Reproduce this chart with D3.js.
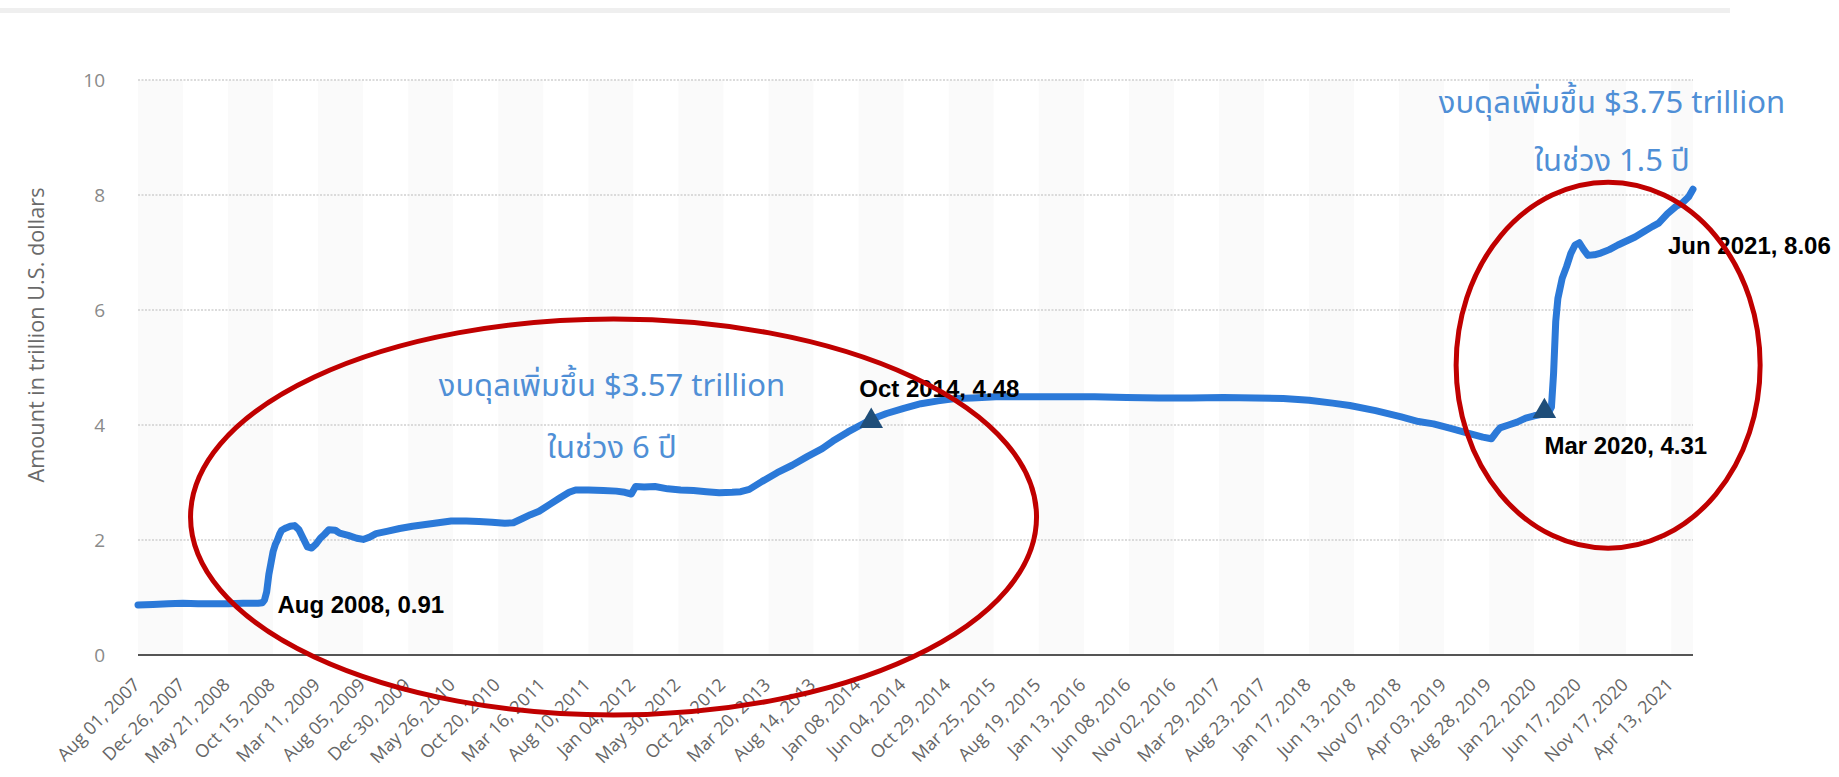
<!DOCTYPE html>
<html>
<head>
<meta charset="utf-8">
<title>Fed balance sheet</title>
<script src="https://cdnjs.cloudflare.com/ajax/libs/d3/7.8.5/d3.min.js"></script>
<style>
    body { margin: 0; background: #ffffff; }
    svg { display: block; }
</style>
</head>
<body>
<script>

// weekly balance sheet total, trillion U.S. dollars
const dates = [
    "2007-08-01", "2007-09-19", "2007-11-07", "2007-12-26", "2008-02-13", "2008-04-02",
    "2008-05-21", "2008-07-09", "2008-08-27", "2008-09-10", "2008-09-17", "2008-09-24",
    "2008-10-01", "2008-10-08", "2008-10-15", "2008-10-22", "2008-10-29", "2008-11-05",
    "2008-11-12", "2008-11-26", "2008-12-10", "2008-12-24", "2009-01-07", "2009-01-21",
    "2009-02-04", "2009-02-18", "2009-03-04", "2009-03-18", "2009-04-01", "2009-04-15",
    "2009-05-06", "2009-05-20", "2009-06-17", "2009-07-15", "2009-08-05", "2009-08-26",
    "2009-09-16", "2009-10-21", "2009-12-02", "2010-01-13", "2010-02-24", "2010-04-07",
    "2010-05-19", "2010-07-07", "2010-08-18", "2010-09-29", "2010-11-10", "2010-12-08",
    "2011-01-05", "2011-02-02", "2011-03-02", "2011-04-06", "2011-05-11", "2011-06-08",
    "2011-06-29", "2011-08-10", "2011-09-28", "2011-11-09", "2011-12-07", "2011-12-28",
    "2012-01-11", "2012-02-08", "2012-03-14", "2012-04-25", "2012-06-06", "2012-07-18",
    "2012-08-29", "2012-10-10", "2012-11-21", "2012-12-19", "2013-01-16", "2013-02-27",
    "2013-04-17", "2013-06-05", "2013-07-24", "2013-09-11", "2013-10-16", "2013-12-04",
    "2014-01-15", "2014-02-19", "2014-04-09", "2014-06-04", "2014-07-30", "2014-09-24",
    "2014-11-19", "2015-01-14", "2015-04-01", "2015-07-15", "2015-11-04", "2016-02-17",
    "2016-06-01", "2016-09-14", "2016-12-28", "2017-04-12", "2017-07-26", "2017-10-25",
    "2018-01-17", "2018-04-04", "2018-05-30", "2018-08-22", "2018-11-14", "2019-01-09",
    "2019-02-27", "2019-04-24", "2019-06-19", "2019-08-07", "2019-09-04", "2019-09-18",
    "2019-10-02", "2019-10-30", "2019-11-27", "2019-12-25", "2020-01-22", "2020-02-19",
    "2020-03-11", "2020-03-18", "2020-03-25", "2020-04-01", "2020-04-08", "2020-04-22",
    "2020-05-06", "2020-05-20", "2020-06-03", "2020-06-17", "2020-07-01", "2020-07-15",
    "2020-08-05", "2020-08-26", "2020-09-23", "2020-10-21", "2020-11-18", "2020-12-16",
    "2021-01-13", "2021-02-10", "2021-03-03", "2021-03-31", "2021-04-28", "2021-05-19",
    "2021-06-09", "2021-06-23"
];

const values = [
    0.87, 0.88, 0.89, 0.90, 0.89, 0.89,
    0.89, 0.90, 0.90, 0.91, 0.96, 1.10,
    1.40, 1.60, 1.80, 1.92, 2.00, 2.10,
    2.17, 2.21, 2.24, 2.25, 2.18, 2.03,
    1.88, 1.86, 1.93, 2.03, 2.10, 2.18,
    2.17, 2.12, 2.08, 2.03, 2.01, 2.05,
    2.11, 2.15, 2.20, 2.24, 2.27, 2.30,
    2.33, 2.33, 2.32, 2.31, 2.29, 2.30,
    2.37, 2.44, 2.50, 2.62, 2.74, 2.83,
    2.87, 2.87, 2.86, 2.85, 2.83, 2.80,
    2.93, 2.92, 2.93, 2.89, 2.87, 2.86,
    2.84, 2.82, 2.83, 2.84, 2.88, 3.02,
    3.17, 3.30, 3.45, 3.59, 3.72, 3.88,
    4.00, 4.10, 4.20, 4.29, 4.37, 4.42,
    4.46, 4.47, 4.49, 4.49, 4.49, 4.49,
    4.48, 4.47, 4.47, 4.48, 4.47, 4.46,
    4.43, 4.38, 4.34, 4.25, 4.14, 4.06,
    4.02, 3.94, 3.86, 3.79, 3.76, 3.86,
    3.95, 4.00, 4.05, 4.12, 4.16, 4.19,
    4.24, 4.31, 4.90, 5.80, 6.20, 6.55,
    6.75, 6.98, 7.13, 7.17, 7.05, 6.95,
    6.96, 6.99, 7.05, 7.13, 7.20, 7.27,
    7.36, 7.45, 7.51, 7.67, 7.80, 7.86,
    7.97, 8.10
];

// category labels shown under the x axis
const xTickLabels = [
    "Aug 01, 2007", "Dec 26, 2007", "May 21, 2008", "Oct 15, 2008", "Mar 11, 2009",
    "Aug 05, 2009", "Dec 30, 2009", "May 26, 2010", "Oct 20, 2010", "Mar 16, 2011",
    "Aug 10, 2011", "Jan 04, 2012", "May 30, 2012", "Oct 24, 2012", "Mar 20, 2013",
    "Aug 14, 2013", "Jan 08, 2014", "Jun 04, 2014", "Oct 29, 2014", "Mar 25, 2015",
    "Aug 19, 2015", "Jan 13, 2016", "Jun 08, 2016", "Nov 02, 2016", "Mar 29, 2017",
    "Aug 23, 2017", "Jan 17, 2018", "Jun 13, 2018", "Nov 07, 2018", "Apr 03, 2019",
    "Aug 28, 2019", "Jan 22, 2020", "Jun 17, 2020", "Nov 17, 2020", "Apr 13, 2021"
];

const yTicks = [0, 2, 4, 6, 8, 10];

// callouts: point referred to and its label
const calloutText = ["Aug 2008, 0.91", "Oct 2014, 4.48", "Mar 2020, 4.31", "Jun 2021, 8.06"];
const calloutDate = ["2008-09-10", "2014-02-18", "2020-02-24", "2021-06-23"];
const calloutValue = [0.91, 4.12, 4.29, 8.06];

// triangle markers (indexes into the callouts)
const markerIndex = [1, 2];

// Thai notes for the two circled periods
const noteLines = [
    ["งบดุลเพิ่มขึ้น $3.57 trillion", "ในช่วง 6 ปี"],
    ["งบดุลเพิ่มขึ้น $3.75 trillion", "ในช่วง 1.5 ปี"]
];


window.onload = function() {
    makeChart();
};


/** Draws the line chart with its notes. */
function makeChart() {

    const width = 1839;
    const height = 777;
    const left = 138;
    const right = 1693;
    const top = 80;
    const bottom = 655;

    const parse = d3.timeParse("%Y-%m-%d");
    const parseLabel = d3.timeParse("%b %d, %Y");

    let series = dates.map(function(d, i) {
        return {date: parse(d), value: values[i]};
    });

    let xScale = d3.scaleTime()
                   .domain([parse("2007-08-01"), parse("2021-06-23")])
                   .range([left, right]);

    let yScale = d3.scaleLinear()
                   .domain([0, 10])
                   .range([bottom, top]);

    let svg = d3.select("body")
                .append("svg")
                .attr("width", width)
                .attr("height", height);

    // thin grey strip along the top
    svg.append("rect")
       .attr("x", 0)
       .attr("y", 8)
       .attr("width", 1730)
       .attr("height", 5)
       .attr("fill", "#efefef");

    // alternating background bands between category labels
    let tickX = xTickLabels.map(function(t) { return xScale(parseLabel(t)); });
    let bandEdges = tickX.concat([right]);

    svg.append("g")
       .selectAll("rect")
       .data(bandEdges.slice(0, -1))
       .enter()
       .append("rect")
       .attr("x", function(d) { return d; })
       .attr("y", top)
       .attr("width", function(d, i) { return bandEdges[i + 1] - d; })
       .attr("height", bottom - top)
       .attr("fill", function(d, i) { return i % 2 == 0 ? "#fafafa" : "#ffffff"; });

    // dotted grid lines
    svg.append("g")
       .selectAll("line")
       .data(yTicks.filter(function(d) { return d > 0; }))
       .enter()
       .append("line")
       .attr("x1", left)
       .attr("x2", right)
       .attr("y1", function(d) { return yScale(d); })
       .attr("y2", function(d) { return yScale(d); })
       .attr("stroke", "#cfcfcf")
       .attr("stroke-width", 1.5)
       .attr("stroke-dasharray", "2,1.5");

    // y axis labels
    let yAxis = svg.append("g")
                   .attr("transform", "translate(" + (left - 33) + ",0)")
                   .call(d3.axisLeft(yScale)
                           .tickValues(yTicks)
                           .tickSize(0)
                           .tickPadding(0));

    yAxis.select(".domain").remove();
    yAxis.selectAll("text")
         .attr("fill", "#8a8a8a")
         .style("font-family", "'Open Sans', sans-serif")
         .style("font-size", "19px");

    // y axis title
    svg.append("text")
       .attr("transform", "translate(44,335) rotate(-90)")
       .attr("text-anchor", "middle")
       .attr("textLength", 295)
       .attr("lengthAdjust", "spacingAndGlyphs")
       .attr("fill", "#6a6a6a")
       .style("font-family", "'Open Sans', sans-serif")
       .style("font-size", "21px")
       .text("Amount in trillion U.S. dollars");

    // zero line
    svg.append("line")
       .attr("x1", left)
       .attr("x2", right)
       .attr("y1", yScale(0))
       .attr("y2", yScale(0))
       .attr("stroke", "#555555")
       .attr("stroke-width", 2);

    // rotated x labels
    svg.append("g")
       .selectAll("text")
       .data(xTickLabels)
       .enter()
       .append("text")
       .attr("transform", function(d, i) {
            return "translate(" + (tickX[i] + 3) + ",686) rotate(-45)";
       })
       .attr("text-anchor", "end")
       .attr("fill", "#666666")
       .style("font-family", "'Open Sans', sans-serif")
       .style("font-size", "18px")
       .text(function(d) { return d; });

    // the balance sheet line
    let line = d3.line()
                 .x(function(d) { return xScale(d.date); })
                 .y(function(d) { return yScale(d.value); });

    svg.append("path")
       .datum(series)
       .attr("d", line)
       .attr("fill", "none")
       .attr("stroke", "#2b79d8")
       .attr("stroke-width", 7)
       .attr("stroke-linejoin", "round")
       .attr("stroke-linecap", "round");

    // triangle markers
    svg.append("g")
       .selectAll("path")
       .data(markerIndex)
       .enter()
       .append("path")
       .attr("d", d3.symbol().type(d3.symbolTriangle).size(240))
       .attr("transform", function(i) {
            return "translate(" + xScale(parse(calloutDate[i])) + "," +
                   (yScale(calloutValue[i]) + 3) + ")";
       })
       .attr("fill", "#1f4e79");

    // callout labels, offset from the point they describe
    const offsets = [[15, 10], [-12, -21], [0, 46], [-25, 62]];

    svg.append("g")
       .selectAll("text")
       .data(calloutText)
       .enter()
       .append("text")
       .attr("x", function(d, i) { return xScale(parse(calloutDate[i])) + offsets[i][0]; })
       .attr("y", function(d, i) { return yScale(calloutValue[i]) + offsets[i][1]; })
       .attr("fill", "#000000")
       .style("font-family", "'Liberation Sans', Arial, sans-serif")
       .style("font-weight", "bold")
       .style("font-size", "24px")
       .text(function(d) { return d; });

    // red circles round the two growth periods
    const rings = [
        {date: "2011-10-31", value: 2.4, rx: 423, ry: 198},
        {date: "2020-09-19", value: 5.04, rx: 152, ry: 183}
    ];

    svg.append("g")
       .selectAll("ellipse")
       .data(rings)
       .enter()
       .append("ellipse")
       .attr("cx", function(d) { return xScale(parse(d.date)); })
       .attr("cy", function(d) { return yScale(d.value); })
       .attr("rx", function(d) { return d.rx; })
       .attr("ry", function(d) { return d.ry; })
       .attr("fill", "none")
       .attr("stroke", "#c00000")
       .attr("stroke-width", 5);

    // Thai notes
    const notePos = [[612, 396, 62], [1612, 113, 58]];

    noteLines.forEach(function(lines, n) {
        svg.append("text")
           .attr("text-anchor", "middle")
           .attr("fill", "#4f8fd6")
           .style("font-family", "'Noto Sans Thai', Tahoma, 'Noto Sans', 'DejaVu Sans', sans-serif")
           .style("font-size", "31px")
           .selectAll("tspan")
           .data(lines)
           .enter()
           .append("tspan")
           .attr("x", notePos[n][0])
           .attr("y", function(d, i) { return notePos[n][1] + i * notePos[n][2]; })
           .text(function(d) { return d; });
    });
}

</script>
</body>
</html>
